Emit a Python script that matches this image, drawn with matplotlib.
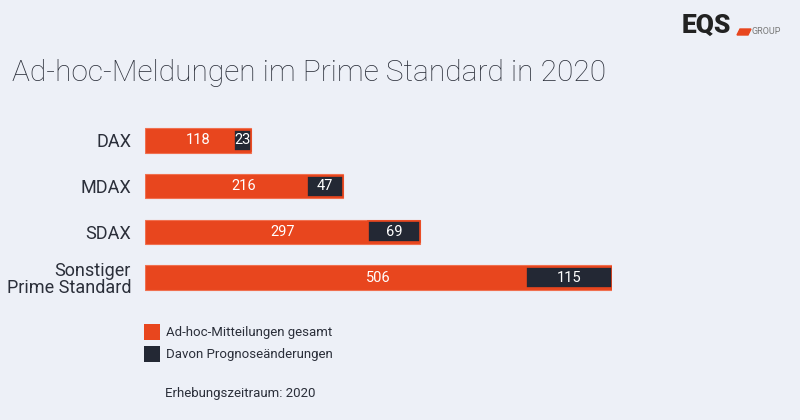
import matplotlib
matplotlib.use("Agg")
import matplotlib.pyplot as plt
from matplotlib.patches import Patch, Polygon

# data
categories = ["DAX", "MDAX", "SDAX", "Sonstiger\nPrime Standard"]
adhoc_total = [118, 216, 297, 506]
prognose = [23, 47, 69, 115]

BG = "#edf0f7"
ORANGE = "#e8461e"
DARK = "#232834"
TEXT = "#2b2f3a"

plt.rcParams["font.family"] = ["Roboto", "DejaVu Sans"]

fig = plt.figure(figsize=(8, 4.2), dpi=100, facecolor=BG)

# bars area: x 145..612 px, rows 45.7 px apart
ax = fig.add_axes([145 / 800, 1 - 300.4 / 420, 467 / 800, 182.8 / 420])
ax.set_facecolor(BG)

ypos = list(range(len(categories)))
totals = [a + b for a, b in zip(adhoc_total, prognose)]
h = 0.53

ax.barh(ypos, totals, height=h, color=ORANGE, edgecolor="#f07050", linewidth=0.8)
ax.barh(ypos, prognose, left=adhoc_total, height=h * 0.86, color=DARK,
        edgecolor=ORANGE, linewidth=1.2)

for y, a, b, t in zip(ypos, adhoc_total, prognose, totals):
    ax.text(t / 2, y, str(a), ha="center", va="center", color="white", fontsize=10.5)
    ax.text(a + b / 2, y, str(b), ha="center", va="center", color="white", fontsize=10.5)

ax.set_xlim(0, max(totals))
ax.set_ylim(len(categories) - 0.5, -0.5)
ax.set_xticks([])
ax.set_yticks(ypos)
ax.set_yticklabels(categories, fontsize=13, color=TEXT, linespacing=0.95)
ax.tick_params(axis="y", length=0, pad=10)
for s in ax.spines.values():
    s.set_visible(False)

fig.text(12 / 800, 1 - 73 / 420, "Ad-hoc-Meldungen im Prime Standard in 2020",
         fontsize=21.5, fontweight="light", color=TEXT, va="center", ha="left")

# logo
fig.text(682 / 800, 1 - 26 / 420, "EQS", fontsize=19, fontweight="heavy",
         color="#222222", va="center", ha="left")
fig.patches.append(Polygon([[737 / 800, 1 - 35 / 420], [748 / 800, 1 - 35 / 420],
                            [751 / 800, 1 - 29 / 420], [740 / 800, 1 - 29 / 420]],
                           closed=True, transform=fig.transFigure, color=ORANGE))
fig.text(752 / 800, 1 - 31.5 / 420, "GROUP", fontsize=6.5, color="#777777",
         va="center", ha="left")

handles = [Patch(facecolor=ORANGE, label="Ad-hoc-Mitteilungen gesamt"),
           Patch(facecolor=DARK, label="Davon Prognoseänderungen")]
fig.legend(handles=handles, loc="upper left", bbox_to_anchor=(144 / 800, 1 - 324 / 420),
           frameon=False, fontsize=9.5, handlelength=1.25, handleheight=1.5,
           handletextpad=0.4, labelspacing=0.45, borderpad=0, borderaxespad=0,
           labelcolor=TEXT)

fig.text(165 / 800, 1 - 394 / 420, "Erhebungszeitraum: 2020", fontsize=9.5,
         color=TEXT, va="center", ha="left")

fig.savefig("out.png", dpi=100, facecolor=BG)
